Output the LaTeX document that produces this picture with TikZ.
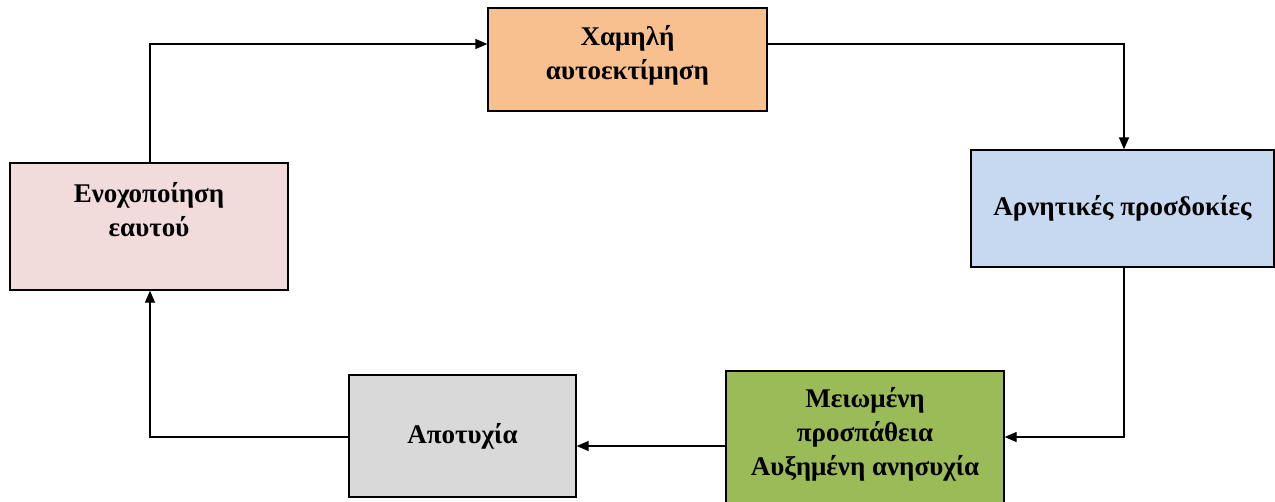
\documentclass[tikz,border=0pt]{standalone}
\usepackage{fontspec}
\setmainfont{Liberation Serif}
\usepackage{tikz}
\usetikzlibrary{arrows.meta}
\definecolor{lowself}{RGB}{248,191,143}
\definecolor{negexp}{RGB}{198,217,240}
\definecolor{effort}{RGB}{155,187,89}
\definecolor{failure}{RGB}{217,217,217}
\definecolor{guilt}{RGB}{242,220,219}
\tikzset{every picture/.style={line width=1.3pt}}
\tikzset{box/.style={draw, rectangle, align=center, inner sep=0pt,
    font=\fontsize{27}{34}\selectfont\bfseries}}
\tikzset{link/.style={-{Triangle[length=12pt,width=10pt]}, line width=1.3pt}}

\begin{document}
\begin{tikzpicture}[x=1pt, y=-1pt]
\useasboundingbox (0,0) rectangle (1275,501);
\node[box, fill=lowself, minimum width=279pt, minimum height=103pt, text depth=15pt] (low) at (627.5,59.5) {Χαμηλή\\αυτοεκτίμηση};
\node[box, fill=negexp, minimum width=303pt, minimum height=117pt] (neg) at (1122.5,208.5) {Αρνητικές προσδοκίες};
\node[box, fill=effort, minimum width=278pt, minimum height=140pt, text depth=20pt] (eff) at (865,441) {Μειωμένη\\προσπάθεια\\Αυξημένη ανησυχία};
\node[box, fill=failure, minimum width=227pt, minimum height=122pt] (fail) at (462.5,436) {Αποτυχία};
\node[box, fill=guilt, minimum width=278pt, minimum height=127pt] (guilt) at (149,226.5) {Ενοχοποίηση\\εαυτού\\~};
\coordinate (c1) at (150,44);
\coordinate (c2) at (1124,44);
\coordinate (c3) at (1124,437);
\coordinate (c4) at (150,437);
\draw[link] (guilt.north -| c1) -- (c1) -- (c1 -| low.west);
\draw[link] (c2 -| low.east) -- (c2) -- (c2 |- neg.north);
\draw[link] (c3 |- neg.south) -- (c3) -- (c3 -| eff.east);
\draw[link] (eff.west |- 0,446) -- (fail.east |- 0,446);
\draw[link] (c4 -| fail.west) -- (c4) -- (c4 |- guilt.south);
\end{tikzpicture}
\end{document}
